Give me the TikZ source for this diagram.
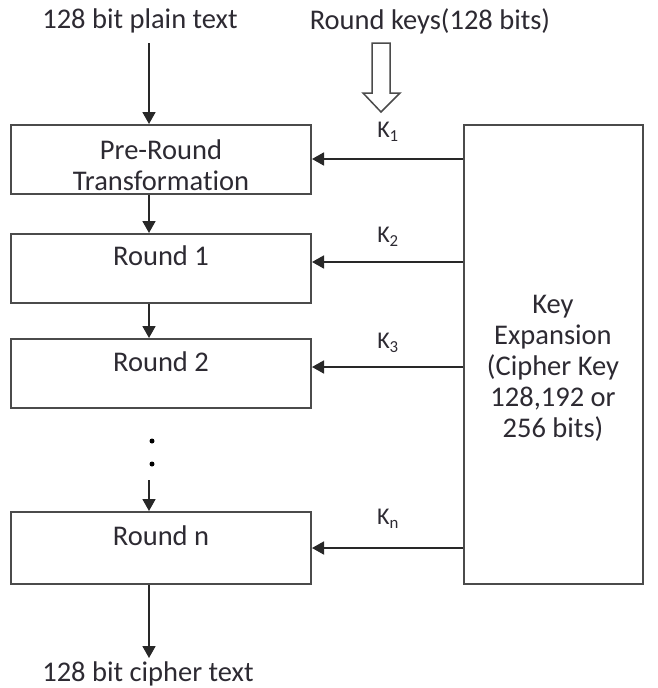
\documentclass[tikz,border=0pt]{standalone}
\usepackage{fontspec}
\setmainfont{Carlito}[Ligatures=NoCommon]
\usetikzlibrary{arrows.meta}
\definecolor{txt}{RGB}{45,42,50}
\definecolor{ln}{RGB}{40,40,40}
\definecolor{bx}{RGB}{75,75,75}
\tikzset{
  every node/.style={text=txt, inner sep=0pt},
  lbl/.style={font=\fontsize{28.5}{31}\selectfont, align=center},
  klbl/.style={font=\fontsize{24}{26}\selectfont},
  blk/.style={draw=bx, line width=2pt, minimum width=300pt, inner sep=0pt},
  arr/.style={draw=ln, line width=1.8pt, -{Triangle[length=12pt,width=13pt]}},
  hollow/.style={draw=bx, line width=1.5pt, fill=white, line join=miter},
  dotmark/.style={circle, fill=black, minimum size=5pt}
}
\begin{document}
\begin{tikzpicture}[x=1pt,y=-1pt]
\useasboundingbox (0,0) rectangle (658,688);
% texts at top/bottom
\node[lbl] (plain) at (140,21) {128 bit plain text};
\node[lbl] (rkeys) at (430,21) {Round keys(128 bits)};
\node[lbl] (cipher) at (148,674) {128 bit cipher text};
% boxes
\node[blk, minimum height=69pt] (pre) at (161,159.5) {};
\node[blk, minimum height=69pt] (r1) at (161,268.5) {};
\node[blk, minimum height=69pt] (r2) at (161,373.5) {};
\node[blk, minimum height=72pt] (rn) at (161,548) {};
\node[draw=bx, line width=2pt, minimum width=179pt, minimum height=459pt] (key) at (553.5,354.5) {};
% box texts
\node[lbl] (pretxt) at (161,165) {Pre-Round\\Transformation};
\node[lbl] (r1txt) at (161,256) {Round 1};
\node[lbl] (r2txt) at (161,362) {Round 2};
\node[lbl] (rntxt) at (161,536) {Round n};
\node[lbl] (keytxt) at (553,368) {Key\\Expansion\\(Cipher Key\\128,192 or\\256 bits)};
% K labels
\node[klbl] (k1) at (388,132) {K\textsubscript{1}};
\node[klbl] (k2) at (388,237) {K\textsubscript{2}};
\node[klbl] (k3) at (388,343) {K\textsubscript{3}};
\node[klbl] (kn) at (388,519) {K\textsubscript{n}};
% coordinates
\coordinate (inx) at (149,43);
\coordinate (dotsend) at (149,480);
\coordinate (outx) at (149,658);
\coordinate (y1) at (0,159);
\coordinate (y2) at (0,262);
\coordinate (y3) at (0,367);
\coordinate (yn) at (0,548);
% vertical arrows
\draw[arr] (inx) -- (inx |- pre.north);
\draw[arr] (inx |- pre.south) -- (inx |- r1.north);
\draw[arr] (inx |- r1.south) -- (inx |- r2.north);
\draw[arr] (dotsend) -- (inx |- rn.north);
\draw[arr] (inx |- rn.south) -- (outx);
% dots
\node[dotmark] (d1) at (152,441) {};
\node[dotmark] (d2) at (152,464) {};
% key arrows
\draw[arr] (key.west |- y1) -- (pre.east |- y1);
\draw[arr] (key.west |- y2) -- (r1.east |- y2);
\draw[arr] (key.west |- y3) -- (r2.east |- y3);
\draw[arr] (key.west |- yn) -- (rn.east |- yn);
% hollow arrow
\draw[hollow] (372,43) -- (390,43) -- (390,93) -- (400,93) -- (381,112) -- (363,93) -- (372,93) -- cycle;
\end{tikzpicture}
\end{document}
